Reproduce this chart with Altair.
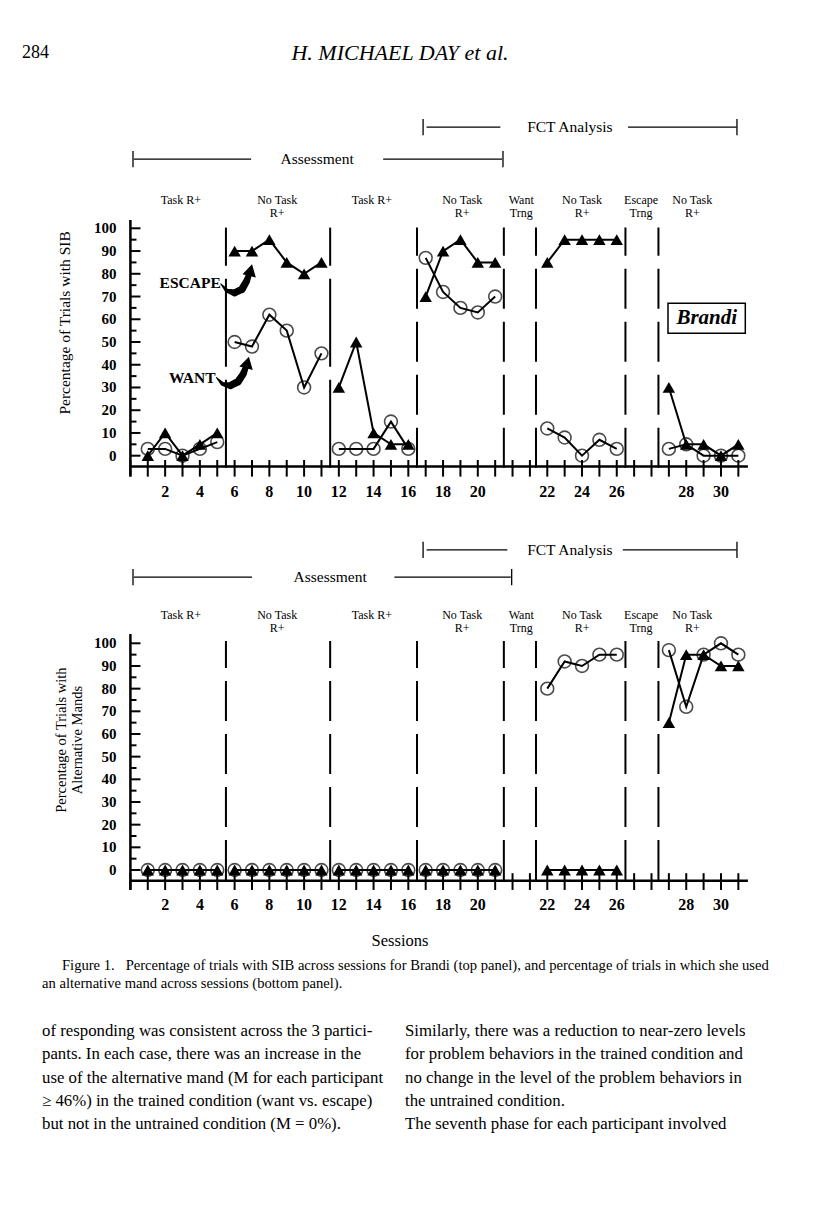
import altair as alt
import pandas as pd

# ---------------- data ----------------
sessions = list(range(1, 32))
phase_of_session = [1] * 5 + [2] * 6 + [3] * 5 + [4] * 5 + [5] * 5 + [6] * 5
# top panel: percentage of trials with SIB
sib_escape = [0, 10, 0, 5, 10, 90, 90, 95, 85, 80, 85, 30, 50, 10, 5, 5,
              70, 90, 95, 85, 85, 85, 95, 95, 95, 95, 30, 5, 5, 0, 5]
sib_want = [3, 3, 0, 3, 6, 50, 48, 62, 55, 30, 45, 3, 3, 3, 15, 3,
            87, 72, 65, 63, 70, 12, 8, 0, 7, 3, 3, 5, 0, 0, 0]
# bottom panel: percentage of trials with alternative mands
mand_escape = [0] * 26 + [65, 95, 95, 90, 90]
mand_want = [0] * 21 + [80, 92, 90, 95, 95, 97, 72, 95, 100, 95]

# the axis has two extra (unlabelled) slots for each training phase
training_slots_after = {21: 2, 26: 2}
x_label_sessions = list(range(2, 31, 2))
x_slot_ticks = list(range(0, 36))
y_tick_values = list(range(0, 101, 5))
y_label_values = list(range(0, 101, 10))
phase_lines_top_long = [5.5, 11.5]
phase_lines_top_short = [16.5, 21.5, 23.35, 28.5, 30.4]
phase_lines_bottom = [5.5, 11.5, 16.5, 21.5, 23.35, 28.5, 30.4]
phase_label_x = [2.9, 8.45, 13.9, 19.1, 22.5, 26.0, 29.4, 32.35]
phase_label_l1 = ["Task  R+", "No Task", "Task R+", "No Task", "Want", "No Task", "Escape", "No Task"]
phase_label_l2 = ["", "R+", "", "R+", "Trng", "R+", "Trng", "R+"]

# ---------------- layout (pixel geometry of the page) ----------------
W, H = 800, 1189
PX_PER_SLOT, AXIS_LEFT_PX = 17.37, 130.4
TOP_ZERO_PX, TOP_PX_PER_UNIT = 455.7, 2.274
BOT_ZERO_PX, BOT_PX_PER_UNIT = 870.0, 2.267
X_DOM = [(8 - AXIS_LEFT_PX) / PX_PER_SLOT, (8 + W - AXIS_LEFT_PX) / PX_PER_SLOT]
TOP_DOM = [(TOP_ZERO_PX - (8 + H)) / TOP_PX_PER_UNIT, (TOP_ZERO_PX - 8) / TOP_PX_PER_UNIT]
BOT_DOM = [(BOT_ZERO_PX - (8 + H)) / BOT_PX_PER_UNIT, (BOT_ZERO_PX - 8) / BOT_PX_PER_UNIT]
SERIF = "Liberation Serif"


def slot(s):
    return s + sum(n for after, n in training_slots_after.items() if s > after)


def X(field="x"):
    return alt.X(f"{field}:Q", scale=alt.Scale(domain=X_DOM), axis=None)


def Y(dom, field="y"):
    return alt.Y(f"{field}:Q", scale=alt.Scale(domain=dom), axis=None)


def PX(field="px"):
    return alt.X(f"{field}:Q", scale=None, axis=None)


def PY(field="py"):
    return alt.Y(f"{field}:Q", scale=None, axis=None)


def series_frame(escape, want):
    rows = []
    for s, p, e, w in zip(sessions, phase_of_session, escape, want):
        rows.append({"x": slot(s), "phase": p, "series": "escape", "y": e})
        rows.append({"x": slot(s), "phase": p, "series": "want", "y": w})
    return pd.DataFrame(rows)


def panel(dom, escape, want, dash_groups, axis_top, axis_bottom_y, tick_y,
          xlab_y, plab_y1, plab_y2, phase_top, phase_bot):
    L = []
    df = series_frame(escape, want)
    # axes
    L.append(alt.Chart(pd.DataFrame({"x": [0], "y": [tick_y[1]], "y2": [axis_top]}))
             .mark_rule(color="black", strokeWidth=2.5)
             .encode(x=X(), y=Y(dom), y2="y2"))
    L.append(alt.Chart(pd.DataFrame({"x": [0], "x2": [35.55], "y": [axis_bottom_y]}))
             .mark_rule(color="black", strokeWidth=2.5)
             .encode(x=X(), x2="x2", y=Y(dom)))
    L.append(alt.Chart(pd.DataFrame({"x": x_slot_ticks}))
             .transform_calculate(y=str(tick_y[0]), y2=str(tick_y[1]))
             .mark_rule(color="black", strokeWidth=2)
             .encode(x=X(), y=Y(dom), y2="y2:Q"))
    yt = pd.DataFrame({"y": y_tick_values,
                       "x2": [0.58 if v % 10 == 0 else 0.35 for v in y_tick_values]})
    L.append(alt.Chart(yt).transform_calculate(x="0")
             .mark_rule(color="black", strokeWidth=2)
             .encode(x=X(), x2="x2:Q", y=Y(dom)))
    L.append(alt.Chart(pd.DataFrame({"y": y_label_values, "t": [str(v) for v in y_label_values]}))
             .transform_calculate(x="-0.8")
             .mark_text(font=SERIF, fontSize=15, fontWeight="bold", align="right", baseline="middle")
             .encode(x=X(), y=Y(dom), text="t:N"))
    L.append(alt.Chart(pd.DataFrame({"x": [slot(s) for s in x_label_sessions],
                                     "t": [str(s) for s in x_label_sessions]}))
             .transform_calculate(y=str(xlab_y))
             .mark_text(font=SERIF, fontSize=16, fontWeight="bold", align="center", baseline="middle")
             .encode(x=X(), y=Y(dom), text="t:N"))
    # phase change lines
    for xs, dash in dash_groups:
        L.append(alt.Chart(pd.DataFrame({"x": xs}))
                 .transform_calculate(y=str(phase_bot), y2=str(phase_top))
                 .mark_rule(color="black", strokeWidth=2, strokeDash=dash)
                 .encode(x=X(), y=Y(dom), y2="y2:Q"))
    # phase labels
    lab = pd.DataFrame({"x": phase_label_x * 2,
                        "y": [plab_y1] * 8 + [plab_y2] * 8,
                        "t": phase_label_l1 + phase_label_l2})
    L.append(alt.Chart(lab).mark_text(font=SERIF, fontSize=12, align="center", baseline="middle")
             .encode(x=X(), y=Y(dom), text="t:N"))
    # data
    L.append(alt.Chart(df).mark_line(color="black", strokeWidth=2)
             .encode(x=X(), y=Y(dom), detail=["series:N", "phase:N"], order="x:Q"))
    L.append(alt.Chart(df).transform_filter("datum.series == 'want'")
             .mark_point(shape="circle", filled=False, size=165, color="black", strokeWidth=1.6)
             .encode(x=X(), y=Y(dom)))
    L.append(alt.Chart(df).transform_filter("datum.series == 'escape'")
             .mark_point(shape="triangle-up", filled=True, size=155, color="black", opacity=1)
             .encode(x=X(), y=Y(dom)))
    return L


def bracket(dom, y, left, right, l1, l2, r1, r2, tx, text):
    L = []
    L.append(alt.Chart(pd.DataFrame({"x": [l1, r1], "x2": [l2, r2]}))
             .transform_calculate(y=str(y))
             .mark_rule(color="black", strokeWidth=1.3)
             .encode(x=X(), x2="x2:Q", y=Y(dom)))
    L.append(alt.Chart(pd.DataFrame({"x": [left, right]}))
             .transform_calculate(y=str(y - 3.6), y2=str(y + 3.6))
             .mark_rule(color="black", strokeWidth=1.3)
             .encode(x=X(), y=Y(dom), y2="y2:Q"))
    L.append(alt.Chart(pd.DataFrame({"x": [tx], "y": [y], "t": [text]}))
             .mark_text(font=SERIF, fontSize=15.5, align="center", baseline="middle")
             .encode(x=X(), y=Y(dom), text="t:N"))
    return L


layers = []
# ---------------- top panel ----------------
layers += panel(TOP_DOM, sib_escape, sib_want,
                [(phase_lines_top_long, [88, 13]), (phase_lines_top_short, [40, 13])],
                axis_top=103.7, axis_bottom_y=-4.8, tick_y=(-1.9, -9.2),
                xlab_y=-15.8, plab_y1=112.4, plab_y2=106.9, phase_top=100.3, phase_bot=-5.3)
layers += bracket(TOP_DOM, 144.5, 16.85, 34.92, 17.05, 21.3, 28.65, 34.9, 25.3, "FCT Analysis")
layers += bracket(TOP_DOM, 130.4, 0.15, 21.45, 0.2, 6.95, 14.55, 21.4, 10.75, "Assessment")
layers.append(alt.Chart(pd.DataFrame({"x": [-3.75], "y": [58.4], "t": ["Percentage of Trials with SIB"]}))
              .mark_text(font=SERIF, fontSize=15.5, angle=270, align="center", baseline="middle")
              .encode(x=X(), y=Y(TOP_DOM), text="t:N"))
# series annotations with curved arrows
layers.append(alt.Chart(pd.DataFrame({"x": [5.2, 4.9], "y": [75.9, 34.2], "t": ["ESCAPE", "WANT"]}))
              .mark_text(font=SERIF, fontSize=15.5, fontWeight="bold", align="right", baseline="middle")
              .encode(x=X(), y=Y(TOP_DOM), text="t:N"))
arrows = pd.DataFrame({
    "arrow": ["e"] * 6 + ["w"] * 6,
    "i": list(range(6)) * 2,
    "x": [5.20, 5.55, 6.00, 6.42, 6.68, 6.80, 4.95, 5.30, 5.75, 6.20, 6.50, 6.62],
    "y": [75.6, 72.6, 71.6, 73.2, 76.6, 79.0, 34.4, 31.6, 30.8, 32.6, 36.0, 38.4],
    "w": [1, 4, 7, 7.5, 7, 6, 1, 4, 7, 7.5, 7, 6],
})
layers.append(alt.Chart(arrows).mark_trail(color="black")
              .encode(x=X(), y=Y(TOP_DOM), size=alt.Size("w:Q", scale=None, legend=None),
                      detail="arrow:N", order="i:Q"))
layers.append(alt.Chart(pd.DataFrame({"x": [6.92, 6.74], "y": [81.6, 41.0]}))
              .mark_point(shape="triangle-up", filled=True, size=190, color="black", angle=14, opacity=1)
              .encode(x=X(), y=Y(TOP_DOM)))
# participant box
layers.append(alt.Chart(pd.DataFrame({"x": [30.95], "x2": [35.4], "y": [53.8], "y2": [67.0]}))
              .mark_rect(fill="white", stroke="black", strokeWidth=1.5)
              .encode(x=X(), x2="x2:Q", y=Y(TOP_DOM), y2="y2:Q"))
layers.append(alt.Chart(pd.DataFrame({"x": [33.18], "y": [60.4], "t": ["Brandi"]}))
              .mark_text(font=SERIF, fontSize=21, fontWeight="bold", fontStyle="italic",
                         align="center", baseline="middle")
              .encode(x=X(), y=Y(TOP_DOM), text="t:N"))

# ---------------- bottom panel ----------------
layers += panel(BOT_DOM, mand_escape, mand_want, [(phase_lines_bottom, [40, 13])],
                axis_top=104.1, axis_bottom_y=-4.7, tick_y=(-1.4, -8.8),
                xlab_y=-15.4, plab_y1=112.5, plab_y2=106.8, phase_top=101.0, phase_bot=-4.4)
layers += bracket(BOT_DOM, 141.2, 16.85, 34.92, 17.05, 21.7, 28.35, 34.9, 25.3, "FCT Analysis")
layers += bracket(BOT_DOM, 129.2, 0.15, 21.95, 0.2, 7.0, 15.2, 21.9, 11.5, "Assessment")
layers.append(alt.Chart(pd.DataFrame({"x": [-3.95, -3.0], "y": [57.3, 57.3],
                                      "t": ["Percentage of Trials with", "Alternative Mands"]}))
              .mark_text(font=SERIF, fontSize=14.5, angle=270, align="center", baseline="middle")
              .encode(x=X(), y=Y(BOT_DOM), text="t:N"))

# ---------------- page text (pixel positions relative to the page margin) ----------------
layers.append(alt.Chart(pd.DataFrame({"px": [14], "py": [45], "t": ["284"]}))
              .mark_text(font=SERIF, fontSize=18, align="left", baseline="middle")
              .encode(x=PX(), y=PY(), text="t:N"))
layers.append(alt.Chart(pd.DataFrame({"px": [392], "py": [45], "t": ["H. MICHAEL DAY et al."]}))
              .mark_text(font=SERIF, fontSize=22, fontStyle="italic", align="center", baseline="middle")
              .encode(x=PX(), y=PY(), text="t:N"))
layers.append(alt.Chart(pd.DataFrame({"px": [392], "py": [933], "t": ["Sessions"]}))
              .mark_text(font=SERIF, fontSize=16.5, align="center", baseline="middle")
              .encode(x=PX(), y=PY(), text="t:N"))

caption = pd.DataFrame({
    "px": [54, 34],
    "py": [958, 976],
    "t": ["Figure 1.\u00a0\u00a0\u00a0Percentage of trials with SIB across sessions for Brandi (top panel), "
          "and percentage of trials in which she used",
          "an alternative mand across sessions (bottom panel)."],
})
layers.append(alt.Chart(caption).mark_text(font=SERIF, fontSize=14.6, align="left", baseline="middle")
              .encode(x=PX(), y=PY(), text="t:N"))

body_left = ["of responding was consistent across the 3 partici-",
             "pants. In each case, there was an increase in the",
             "use of the alternative mand (M for each participant",
             "\u2265 46%) in the trained condition (want vs. escape)",
             "but not in the untrained condition (M = 0%)."]
body_right = ["Similarly, there was a reduction to near-zero levels",
              "for problem behaviors in the trained condition and",
              "no change in the level of the problem behaviors in",
              "the untrained condition.",
              "\u00a0\u00a0\u00a0The seventh phase for each participant involved"]
body_y = [1023, 1046, 1070, 1093, 1116]
body = pd.DataFrame({"px": [34] * 5 + [397] * 5, "py": body_y * 2, "t": body_left + body_right})
layers.append(alt.Chart(body).mark_text(font=SERIF, fontSize=16.8, align="left", baseline="middle")
              .encode(x=PX(), y=PY(), text="t:N"))

chart = (alt.layer(*layers)
         .resolve_scale(x="independent", y="independent")
         .properties(width=W, height=H, padding=0, background="white",
                     autosize=alt.AutoSizeParams(type="none"))
         .configure_view(stroke=None))

chart.save("out.html", embed_options={"renderer": "svg", "actions": False})
